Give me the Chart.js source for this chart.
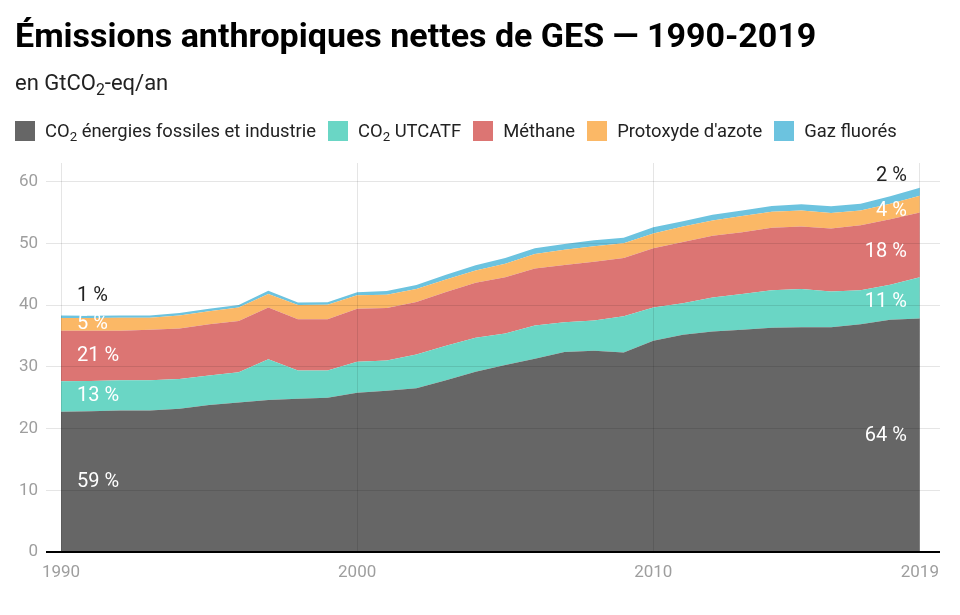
<!DOCTYPE html>
<html lang="fr">
<head>
<meta charset="utf-8">
<title>Émissions anthropiques nettes de GES — 1990-2019</title>
<script src="https://cdn.jsdelivr.net/npm/chart.js@4.4.1/dist/chart.umd.min.js"></script>
<style>
  html, body { margin: 0; padding: 0; background: #fff; }
  body { width: 960px; height: 615px; position: relative; overflow: hidden; font-family: Roboto, sans-serif; }
  #chart { position: absolute; left: 0; top: 0; }
  h1 { position: absolute; left: 15px; top: 18px; margin: 0; font-size: 34px; line-height: 34px; font-weight: 700; color: #000; white-space: nowrap; }
  .unit { position: absolute; left: 15px; top: 72px; font-size: 22px; line-height: 22px; color: #222; }
  sub { font-size: 0.72em; line-height: 0; vertical-align: -0.3em; }
  #legend { position: absolute; left: 15px; top: 121px; height: 20px; display: flex; align-items: center; font-size: 18.4px; line-height: 18px; color: #222; white-space: nowrap; }
  .item { display: flex; align-items: center; margin-right: 12px; }
  .swatch { width: 20px; height: 20px; margin-right: 10px; }
</style>
</head>
<body>
<canvas id="chart" width="960" height="615"></canvas>
<h1>Émissions anthropiques nettes de GES — 1990-2019</h1>
<div class="unit">en GtCO<sub>2</sub>-eq/an</div>
<div id="legend"></div>

<script>
// Données (GtCO2-eq/an)
const years = [1990, 1991, 1992, 1993, 1994, 1995, 1996, 1997, 1998, 1999,
               2000, 2001, 2002, 2003, 2004, 2005, 2006, 2007, 2008, 2009,
               2010, 2011, 2012, 2013, 2014, 2015, 2016, 2017, 2018, 2019];

const fossil  = [22.7, 22.8, 22.9, 22.9, 23.2, 23.8, 24.2, 24.6, 24.8, 25.0,
                 25.8, 26.1, 26.5, 27.8, 29.2, 30.3, 31.3, 32.4, 32.6, 32.3,
                 34.2, 35.2, 35.7, 36.0, 36.3, 36.4, 36.4, 36.9, 37.6, 37.8];
const lulucf  = [4.95, 4.9, 4.9, 4.9, 4.8, 4.8, 4.9, 6.6, 4.6, 4.4,
                 5.0, 4.9, 5.5, 5.6, 5.5, 5.1, 5.4, 4.8, 4.9, 5.9,
                 5.4, 5.1, 5.5, 5.8, 6.1, 6.2, 5.8, 5.5, 5.7, 6.7];
const methane = [8.2, 8.15, 8.05, 8.2, 8.2, 8.3, 8.3, 8.4, 8.3, 8.3,
                 8.6, 8.5, 8.5, 8.7, 8.9, 9.1, 9.2, 9.3, 9.5, 9.4,
                 9.6, 9.9, 10.0, 10.0, 10.1, 10.1, 10.2, 10.5, 10.6, 10.5];
const n2o     = [2.05, 2.05, 2.1, 1.95, 2.1, 2.1, 2.2, 2.2, 2.3, 2.35,
                 2.2, 2.15, 2.1, 2.05, 2.0, 2.2, 2.35, 2.45, 2.5, 2.4,
                 2.4, 2.5, 2.5, 2.6, 2.6, 2.6, 2.5, 2.4, 2.5, 2.7];
const fgas    = [0.4, 0.35, 0.35, 0.35, 0.4, 0.4, 0.4, 0.5, 0.4, 0.4,
                 0.45, 0.6, 0.65, 0.75, 0.85, 0.9, 0.95, 0.95, 1.0, 0.9,
                 1.0, 0.85, 0.9, 0.9, 0.95, 1.0, 1.1, 1.1, 1.2, 1.3];

const seriesNames = ['CO2 énergies fossiles et industrie', 'CO2 UTCATF', 'Méthane', 'Protoxyde d\'azote', 'Gaz fluorés'];
const seriesColors = ['#666666', '#6ad6c5', '#dc7573', '#fbb866', '#6cc3df'];

// parts en % affichées au début et à la fin
const shareStart = ['59 %', '13 %', '21 %', '5 %', '1 %'];
const shareEnd   = ['64 %', '11 %', '18 %', '4 %', '2 %'];

const xTicks = [1990, 2000, 2010, 2019];
const yTicks = [0, 10, 20, 30, 40, 50, 60];

const allSeries = [fossil, lulucf, methane, n2o, fgas];

const datasets = allSeries.map((values, i) => ({
    label: seriesNames[i],
    data: values.map((v, j) => ({ x: years[j], y: v })),
    backgroundColor: seriesColors[i],
    borderWidth: 0,
    pointRadius: 0,
    tension: 0,
    fill: i === 0 ? 'origin' : '-1'
}));

// Étiquettes de pourcentage au bord gauche et droit
const shareLabels = {
    id: 'shareLabels',
    afterDraw(chart) {
        const ctx = chart.ctx;
        const x = chart.scales.x;
        const y = chart.scales.y;
        const n = years.length;
        ctx.save();
        ctx.font = '20px Roboto';
        ctx.textBaseline = 'middle';
        chart.data.datasets.forEach((ds, i) => {
            const top = chart.getDatasetMeta(i).data;
            const below = i > 0 ? chart.getDatasetMeta(i - 1).data : null;
            const last = i === chart.data.datasets.length - 1;
            [[1, shareStart[i], 'left', x.getPixelForValue(years[0]) + 16],
             [n - 2, shareEnd[i], 'right', x.getPixelForValue(years[n - 1]) - 13]].forEach(([idx, text, align, px]) => {
                const yTop = top[idx].y;
                const yBot = below ? below[idx].y : y.getPixelForValue(0);
                const py = last ? yTop - 20 : (yTop + yBot) / 2;
                ctx.fillStyle = last ? '#222' : '#fff';
                ctx.textAlign = align;
                ctx.fillText(text, px, py);
            });
        });
        ctx.restore();
    }
};

const chart = new Chart(document.getElementById('chart'), {
    type: 'line',
    data: { datasets: datasets },
    options: {
        responsive: false,
        animation: false,
        layout: { padding: { top: 163, left: 0, right: 20, bottom: 23 } },
        plugins: { legend: { display: false }, tooltip: { enabled: false } },
        scales: {
            x: {
                type: 'linear',
                min: 1990,
                max: 2019.68,
                afterBuildTicks: (scale) => { scale.ticks = xTicks.map(v => ({ value: v })); },
                afterFit: (scale) => { scale.height = 40; },
                grid: { z: 1, color: 'rgba(0,0,0,0.1)', lineWidth: 1, drawTicks: false },
                border: { display: false },
                ticks: {
                    padding: 11,
                    color: '#9e9e9e',
                    font: { family: 'Roboto', size: 17 },
                    maxRotation: 0,
                    callback: (v) => String(v)
                }
            },
            y: {
                stacked: true,
                min: 0,
                max: 63,
                afterBuildTicks: (scale) => { scale.ticks = yTicks.map(v => ({ value: v })); },
                afterFit: (scale) => { scale.width = 61; },
                grid: {
                    z: 1,
                    color: (c) => c.tick && c.tick.value === 0 ? '#000' : 'rgba(0,0,0,0.1)',
                    lineWidth: (c) => c.tick && c.tick.value === 0 ? 2 : 1,
                    tickLength: 15
                },
                border: { display: false },
                ticks: {
                    padding: 8,
                    color: '#9e9e9e',
                    font: { family: 'Roboto', size: 17 }
                }
            }
        }
    },
    plugins: [shareLabels]
});

// Légende HTML (indices en CO2)
const legendBox = document.getElementById('legend');
chart.data.datasets.forEach((ds) => {
    const item = document.createElement('div');
    item.className = 'item';
    const sw = document.createElement('span');
    sw.className = 'swatch';
    sw.style.background = ds.backgroundColor;
    const txt = document.createElement('span');
    txt.innerHTML = ds.label.replace('CO2', 'CO<sub>2</sub>');
    item.appendChild(sw);
    item.appendChild(txt);
    legendBox.appendChild(item);
});
</script>
</body>
</html>
